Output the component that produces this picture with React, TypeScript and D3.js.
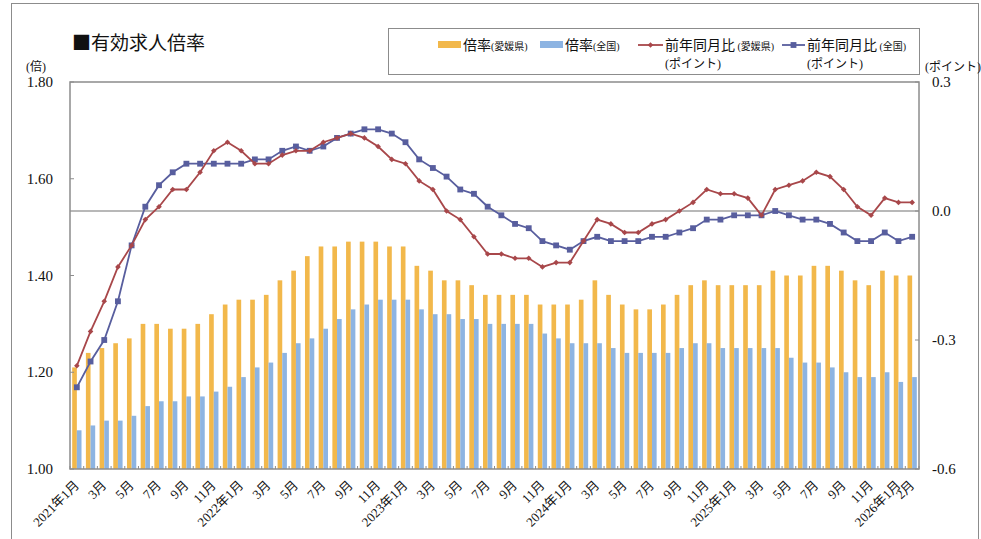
import React from "react";
import * as d3 from "d3";

// 2021年1月〜2026年2月
const years = [2021, 2022, 2023, 2024, 2025, 2026];
const lastMonth = 2;

const ehimeRatio = [
  1.21, 1.24, 1.25, 1.26, 1.27, 1.3, 1.3, 1.29, 1.29, 1.3, 1.32, 1.34,
  1.35, 1.35, 1.36, 1.39, 1.41, 1.44, 1.46, 1.46, 1.47, 1.47, 1.47, 1.46,
  1.46, 1.42, 1.41, 1.39, 1.39, 1.38, 1.36, 1.36, 1.36, 1.36, 1.34, 1.34,
  1.34, 1.35, 1.39, 1.36, 1.34, 1.33, 1.33, 1.34, 1.36, 1.38, 1.39, 1.38,
  1.38, 1.38, 1.38, 1.41, 1.4, 1.4, 1.42, 1.42, 1.41, 1.39, 1.38, 1.41,
  1.4, 1.4,
];
const nationalRatio = [
  1.08, 1.09, 1.1, 1.1, 1.11, 1.13, 1.14, 1.14, 1.15, 1.15, 1.16, 1.17,
  1.19, 1.21, 1.22, 1.24, 1.26, 1.27, 1.29, 1.31, 1.33, 1.34, 1.35, 1.35,
  1.35, 1.33, 1.32, 1.32, 1.31, 1.31, 1.3, 1.3, 1.3, 1.3, 1.28, 1.27,
  1.26, 1.26, 1.26, 1.25, 1.24, 1.24, 1.24, 1.24, 1.25, 1.26, 1.26, 1.25,
  1.25, 1.25, 1.25, 1.25, 1.23, 1.22, 1.22, 1.21, 1.2, 1.19, 1.19, 1.2,
  1.18, 1.19,
];
const ehimeYoY = [
  -0.36, -0.28, -0.21, -0.13, -0.08, -0.02, 0.01, 0.05, 0.05, 0.09, 0.14, 0.16,
  0.14, 0.11, 0.11, 0.13, 0.14, 0.14, 0.16, 0.17, 0.18, 0.17, 0.15, 0.12,
  0.11, 0.07, 0.05, 0.0, -0.02, -0.06, -0.1, -0.1, -0.11, -0.11, -0.13, -0.12,
  -0.12, -0.07, -0.02, -0.03, -0.05, -0.05, -0.03, -0.02, 0.0, 0.02, 0.05, 0.04,
  0.04, 0.03, -0.01, 0.05, 0.06, 0.07, 0.09, 0.08, 0.05, 0.01, -0.01, 0.03,
  0.02, 0.02,
];
const nationalYoY = [
  -0.41, -0.35, -0.3, -0.21, -0.08, 0.01, 0.06, 0.09, 0.11, 0.11, 0.11, 0.11,
  0.11, 0.12, 0.12, 0.14, 0.15, 0.14, 0.15, 0.17, 0.18, 0.19, 0.19, 0.18,
  0.16, 0.12, 0.1, 0.08, 0.05, 0.04, 0.01, -0.01, -0.03, -0.04, -0.07, -0.08,
  -0.09, -0.07, -0.06, -0.07, -0.07, -0.07, -0.06, -0.06, -0.05, -0.04, -0.02, -0.02,
  -0.01, -0.01, -0.01, 0.0, -0.01, -0.02, -0.02, -0.03, -0.05, -0.07, -0.07, -0.05,
  -0.07, -0.06,
];

const leftTicks = [1.0, 1.2, 1.4, 1.6, 1.8];
const rightTicks = [0.3, 0.0, -0.3, -0.6];

const months: { y: number; m: number }[] = [];
years.forEach((y) => {
  for (let m = 1; m <= 12; m++) {
    if (y === 2026 && m > lastMonth) break;
    months.push({ y, m });
  }
});
const keys = months.map((d) => `${d.y}-${d.m}`);

const W = 981;
const H = 539;
const plot = { left: 70, right: 919, top: 82, bottom: 469 };

const ORANGE = "#F2B84B";
const BLUE = "#8DB4E2";
const RED = "#A8474A";
const NAVY = "#585E9E";
const AXIS = "#8c8c8c";
const FONT = "'Liberation Serif', 'Noto Sans CJK JP', serif";
const JP = "'Noto Sans CJK JP', sans-serif";

export default function App() {
  const x = d3
    .scaleBand()
    .domain(keys)
    .range([plot.left, plot.right])
    .paddingInner(0.32)
    .paddingOuter(0.16);
  const yL = d3.scaleLinear().domain([1.0, 1.8]).range([plot.bottom, plot.top]);
  const yR = d3.scaleLinear().domain([-0.6, 0.3]).range([plot.bottom, plot.top]);
  const bw = x.bandwidth();
  const cx = (i: number) => (x(keys[i]) as number) + bw / 2;

  const line = d3
    .line<number>()
    .x((_, i) => cx(i))
    .y((d) => yR(d));

  const diamond = d3.symbol(d3.symbolDiamond2, 20)() as string;
  const square = d3.symbol(d3.symbolSquare, 34)() as string;

  const step = x.step();
  const boundaries = d3.range(keys.length + 1).map((i) => plot.left + step * i);

  return (
    <div style={{ position: "absolute", left: 0, top: 0 }}>
      <svg width={W} height={H} style={{ display: "block", background: "#fff" }}>
        <rect x={11.5} y={3.5} width={967} height={545} fill="none" stroke={AXIS} />

        <text x={72} y={50} fontFamily={JP} fontSize={19} fill="#111">
          ■有効求人倍率
        </text>

        {/* bars */}
        {ehimeRatio.map((v, i) => (
          <rect
            key={"e" + i}
            x={x(keys[i])}
            y={yL(v)}
            width={bw / 2}
            height={plot.bottom - yL(v)}
            fill={ORANGE}
          />
        ))}
        {nationalRatio.map((v, i) => (
          <rect
            key={"n" + i}
            x={(x(keys[i]) as number) + bw / 2}
            y={yL(v)}
            width={bw / 2}
            height={plot.bottom - yL(v)}
            fill={BLUE}
          />
        ))}

        {/* zero line */}
        <line x1={plot.left} x2={plot.right} y1={yR(0)} y2={yR(0)} stroke="#a0a0a0" strokeWidth={1.5} />

        {/* plot frame */}
        <rect
          x={plot.left}
          y={plot.top}
          width={plot.right - plot.left}
          height={plot.bottom - plot.top}
          fill="none"
          stroke={AXIS}
          strokeWidth={1.5}
        />

        {/* x ticks */}
        {boundaries.map((bx, i) => (
          <line key={"xt" + i} x1={bx} x2={bx} y1={plot.bottom} y2={plot.bottom - 3} stroke={AXIS} />
        ))}

        {/* left axis */}
        {leftTicks.map((t) => (
          <g key={"l" + t}>
            <line x1={plot.left} x2={plot.left + 4} y1={yL(t)} y2={yL(t)} stroke={AXIS} />
            <text
              x={53}
              y={yL(t)}
              textAnchor="end"
              dominantBaseline="central"
              fontFamily={FONT}
              fontSize={15}
              fill="#111"
            >
              {t.toFixed(2)}
            </text>
          </g>
        ))}
        <text x={26} y={67} dominantBaseline="central" fontFamily={FONT} fontSize={12} fill="#111">
          (倍)
        </text>

        {/* right axis */}
        {rightTicks.map((t) => (
          <g key={"r" + t}>
            <line x1={plot.right - 4} x2={plot.right} y1={yR(t)} y2={yR(t)} stroke={AXIS} />
            <text
              x={932}
              y={yR(t)}
              dominantBaseline="central"
              fontFamily={FONT}
              fontSize={15}
              fill="#111"
            >
              {t.toFixed(1)}
            </text>
          </g>
        ))}
        <text x={925} y={67} dominantBaseline="central" fontFamily={FONT} fontSize={12} fill="#111">
          (ポイント)
        </text>

        {/* x labels */}
        {months.map((d, i) => {
          const show = d.m % 2 === 1 || i === months.length - 1;
          if (!show) return null;
          const label = d.m === 1 ? `${d.y}年1月` : `${d.m}月`;
          const px = cx(i) + 3;
          const py = 486;
          return (
            <text
              key={"xl" + i}
              transform={`translate(${px},${py}) rotate(-45)`}
              textAnchor="end"
              fontFamily={FONT}
              fontSize={13}
              fill="#111"
            >
              {label}
            </text>
          );
        })}

        {/* lines */}
        <path d={line(nationalYoY) as string} fill="none" stroke={NAVY} strokeWidth={1.8} />
        {nationalYoY.map((v, i) => (
          <path key={"ns" + i} d={square} transform={`translate(${cx(i)},${yR(v)})`} fill={NAVY} />
        ))}
        <path d={line(ehimeYoY) as string} fill="none" stroke={RED} strokeWidth={1.8} />
        {ehimeYoY.map((v, i) => (
          <path key={"es" + i} d={diamond} transform={`translate(${cx(i)},${yR(v)})`} fill={RED} />
        ))}

        {/* legend */}
        <rect x={388.5} y={28.5} width={531} height={46} fill="#fff" stroke={AXIS} />
        <g fontFamily={FONT} fill="#111">
          <rect x={438} y={41} width={23} height={7} fill={ORANGE} />
          <text x={463} y={50} fontSize={14}>
            倍率<tspan fontSize={10}>(愛媛県)</tspan>
          </text>
          <rect x={540} y={41} width={23} height={7} fill={BLUE} />
          <text x={565} y={50} fontSize={14}>
            倍率<tspan fontSize={10}>(全国)</tspan>
          </text>
          <line x1={638} x2={663} y1={45} y2={45} stroke={RED} strokeWidth={1.8} />
          <path d={diamond} transform="translate(650.5,45)" fill={RED} />
          <text x={665} y={50} fontSize={14}>
            前年同月比<tspan fontSize={10}> (愛媛県)</tspan>
          </text>
          <text x={665} y={68} fontSize={12}>
            (ポイント)
          </text>
          <line x1={782} x2={805} y1={45} y2={45} stroke={NAVY} strokeWidth={1.8} />
          <path d={square} transform="translate(793.5,45)" fill={NAVY} />
          <text x={807} y={50} fontSize={14}>
            前年同月比<tspan fontSize={10}> (全国)</tspan>
          </text>
          <text x={807} y={68} fontSize={12}>
            (ポイント)
          </text>
        </g>
      </svg>
    </div>
  );
}
